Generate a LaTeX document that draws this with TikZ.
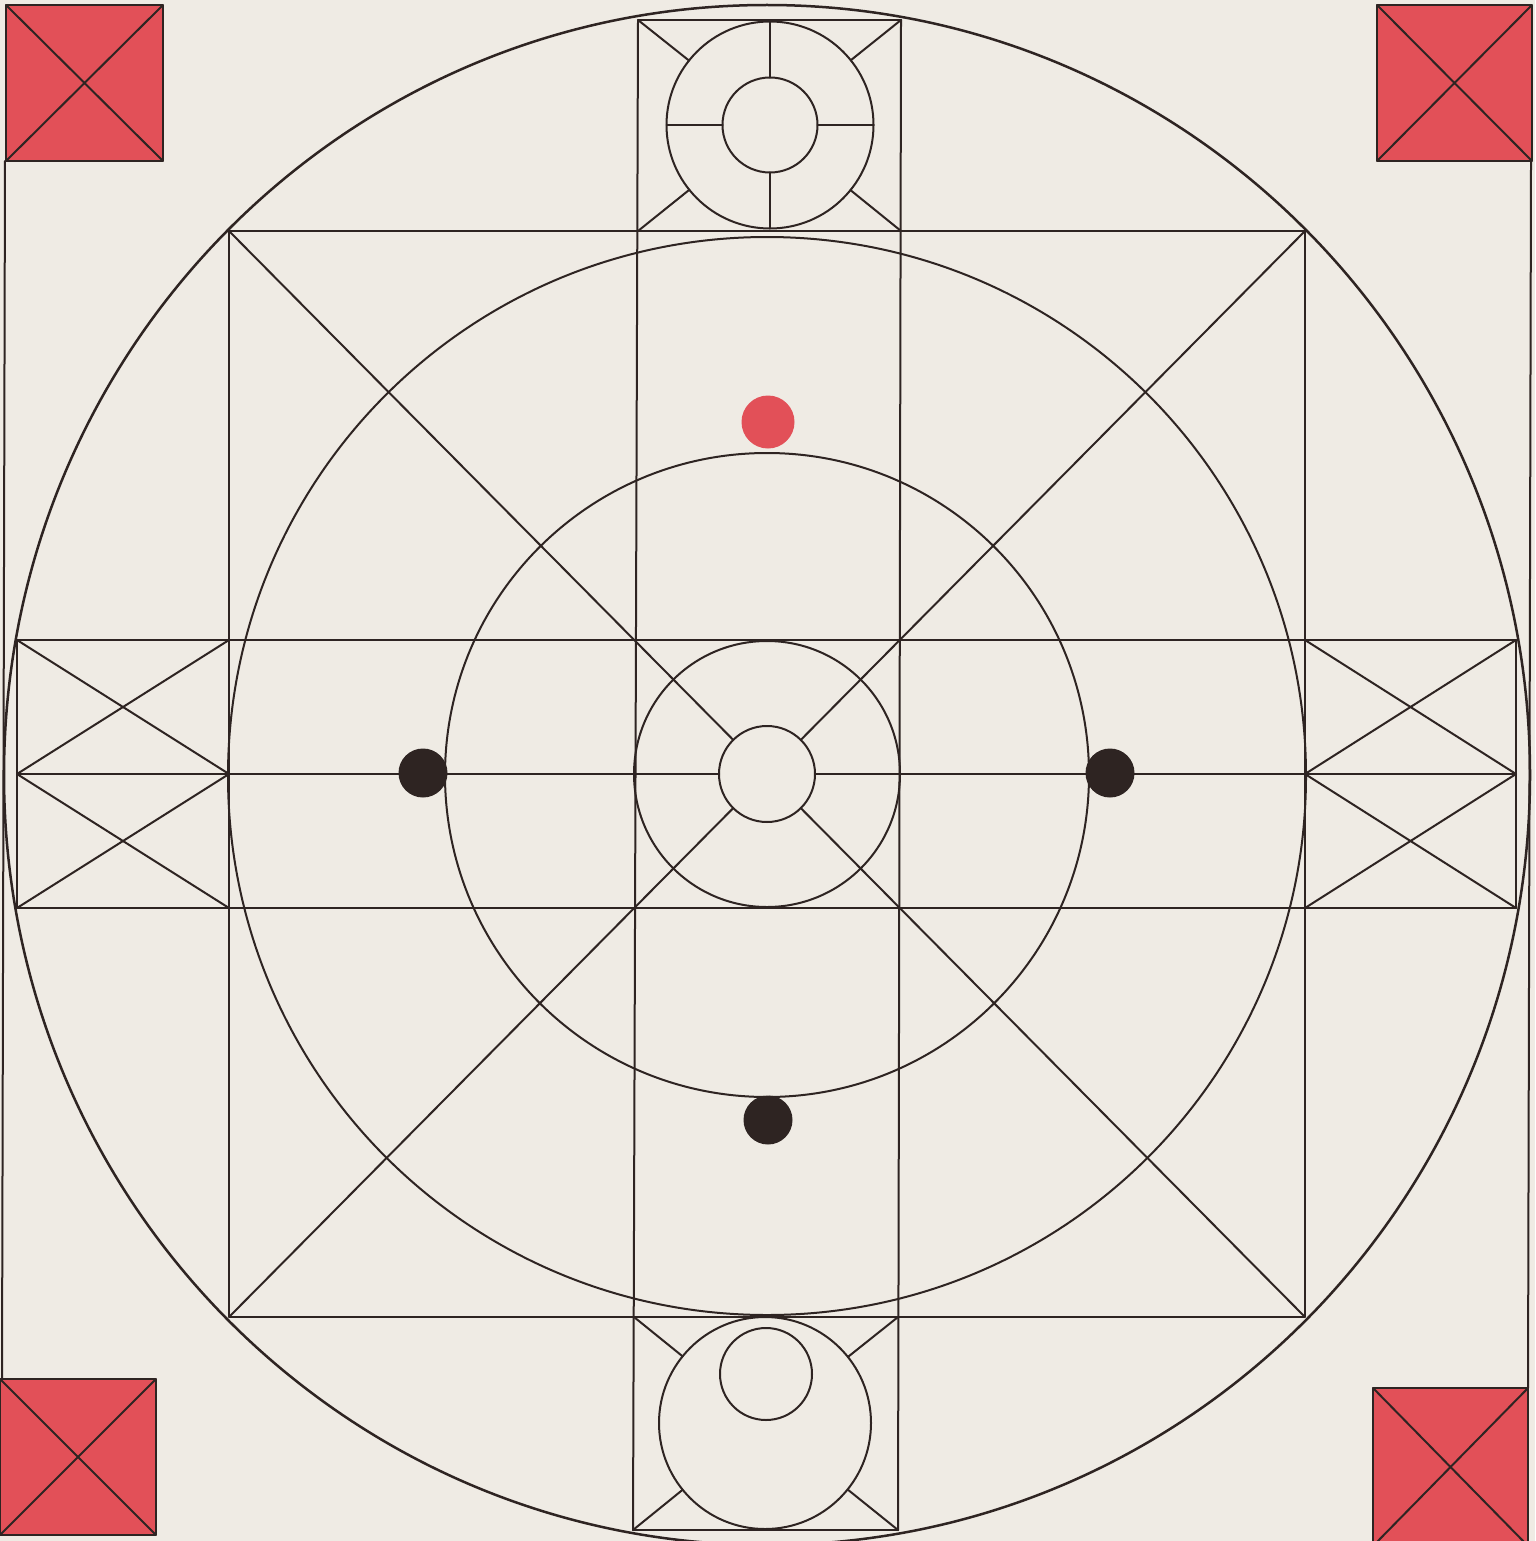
\documentclass[tikz,border=0pt]{standalone}
\usetikzlibrary{calc}
\definecolor{paper}{RGB}{239,235,228}
\definecolor{ink}{RGB}{46,36,34}
\definecolor{flag}{RGB}{226,80,88}
\begin{document}
\begin{tikzpicture}[x=1pt,y=-1pt,line join=round,line cap=round,
  ln/.style={draw=ink,line width=2pt},
  bigln/.style={draw=ink,line width=2.5pt},
  flagbox/.style={fill=flag,draw=ink,line width=2pt},
  blackdot/.style={fill=ink},
  reddot/.style={fill=flag}]
\fill[paper] (0,0) rectangle (1535,1541);
\useasboundingbox (0,0) rectangle (1535,1541);

% red corner squares with crosses
\foreach \a/\b/\c/\d in {6/5/163/161, 1377/5/1532/161, 0/1379/156/1535, 1373/1388/1528/1546}{
  \draw[flagbox] (\a,\b) rectangle (\c,\d);
  \draw[ln] (\a,\b) -- (\c,\d) (\c,\b) -- (\a,\d);
}
% side lines joining the squares
\coordinate (lt) at (5,161); \coordinate (lb) at (2,1379);
\coordinate (rt) at (1531,161); \coordinate (rb) at (1528,1388);
\draw[ln] (lt) -- (lb);
\draw[ln] (rt) -- (rb);

% centres
\coordinate (C) at (767,774);
\coordinate (Cbig) at (767,775);
\coordinate (Cmid) at (767,776);
\coordinate (T) at (770,125);
\coordinate (B) at (765,1423);
\coordinate (Bi) at (766,1374);

% big outer circle
\draw[bigln] (Cbig) ellipse [x radius=763pt, y radius=770pt];

% big square
\coordinate (s1) at (229,231); \coordinate (s2) at (1305,231);
\coordinate (s3) at (1305,1317); \coordinate (s4) at (229,1317);
\draw[ln] (s1) -- (s2) -- (s3) -- (s4) -- cycle;

% circles
\draw[ln] (Cmid) circle [radius=539pt];
\draw[ln] (Cbig) circle [radius=322pt];
\draw[ln] (C) circle [radius=133pt];
\draw[ln] (C) circle [radius=48pt];

% square diagonals stopping at inner circle
\foreach \p in {s1,s2,s3,s4}{
  \draw[ln] (\p) -- ($(C)!48pt!(\p)$);
}

% long verticals
\coordinate (v1t) at (638,20); \coordinate (v1b) at (633,1530);
\coordinate (v2t) at (901,20); \coordinate (v2b) at (898,1530);
\draw[ln] (v1t) -- (v1b);
\draw[ln] (v2t) -- (v2b);

% long horizontals
\coordinate (h1l) at (17,640); \coordinate (h1r) at (1516,640);
\coordinate (h2l) at (17,908); \coordinate (h2r) at (1516,908);
\coordinate (hml) at (17,774); \coordinate (hmr) at (1516,774);
\coordinate (lbr1) at (229,640); \coordinate (lbr2) at (229,908); \coordinate (lbrm) at (229,774);
\coordinate (rbl1) at (1305,640); \coordinate (rbl2) at (1305,908); \coordinate (rblm) at (1305,774);
\draw[ln] (h1l) -- (h1r);
\draw[ln] (h2l) -- (h2r);
\draw[ln] (hml) -- ($(C)!48pt!(hml)$);
\draw[ln] (hmr) -- ($(C)!48pt!(hmr)$);

% left box
\draw[ln] (h1l) -- (h2l);
\draw[ln] (h1l) -- (lbrm) (lbr1) -- (hml);
\draw[ln] (hml) -- (lbr2) (lbrm) -- (h2l);
% right box
\draw[ln] (h1r) -- (h2r);
\draw[ln] (rbl1) -- (hmr) (h1r) -- (rblm);
\draw[ln] (rblm) -- (h2r) (hmr) -- (rbl2);

% top box
\coordinate (tb1) at (638,231); \coordinate (tb2) at (901,231);
\draw[ln] (v1t) -- (v2t);
\draw[ln] (T) circle [radius=103.5pt];
\draw[ln] (T) circle [radius=47.5pt];
\foreach \p in {v1t,v2t,tb1,tb2}{
  \draw[ln] (\p) -- ($(T)!103.5pt!(\p)$);
}
\draw[ln] ($(T)+(0,-47.5)$) -- ($(T)+(0,-103.5)$);
\draw[ln] ($(T)+(0,47.5)$) -- ($(T)+(0,103.5)$);
\draw[ln] ($(T)+(-47.5,0)$) -- ($(T)+(-103.5,0)$);
\draw[ln] ($(T)+(47.5,0)$) -- ($(T)+(103.5,0)$);

% bottom box
\coordinate (bb1) at (634,1317); \coordinate (bb2) at (898,1317);
\draw[ln] (v1b) -- (v2b);
\draw[ln] (B) circle [radius=106pt];
\draw[ln] (Bi) circle [radius=46pt];
\foreach \p in {bb1,bb2,v1b,v2b}{
  \draw[ln] (\p) -- ($(B)!106pt!(\p)$);
}

% dots
\fill[reddot] (768,422) circle [radius=26.5pt];
\fill[blackdot] (423,773) circle [radius=24.5pt];
\fill[blackdot] (1110,773) circle [radius=24.5pt];
\fill[blackdot] (768,1120) circle [radius=24.5pt];
\end{tikzpicture}
\end{document}
